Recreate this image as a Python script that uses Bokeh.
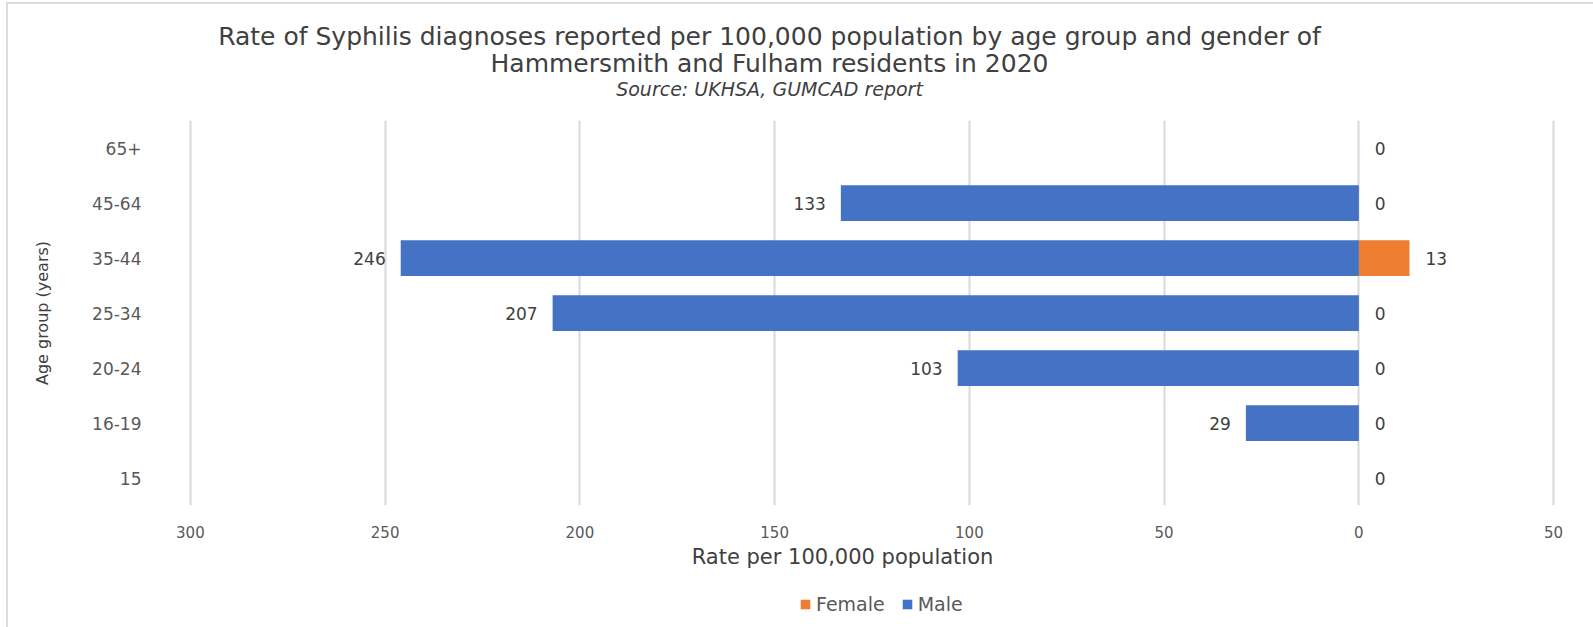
from bokeh.plotting import figure
from bokeh.layouts import column
from bokeh.models import ColumnDataSource, FixedTicker, Legend, LegendItem, Label
from bokeh.core.properties import value
from bokeh.embed import file_html
from bokeh.resources import INLINE

age_groups = ["15", "16-19", "20-24", "25-34", "35-44", "45-64", "65+"]
male = [0, 29, 103, 207, 246, 133, 0]
female = [0, 0, 0, 0, 13, 0, 0]
tick_values = [-300, -250, -200, -150, -100, -50, 0, 50]
tick_labels = ["300", "250", "200", "150", "100", "50", "0", "50"]

title_1 = "Rate of Syphilis diagnoses reported per 100,000 population by age group and gender of"
title_2 = "Hammersmith and Fulham residents in 2020"
subtitle = "Source: UKHSA, GUMCAD report"
x_title = "Rate per 100,000 population"
y_title = "Age group (years)"
series_names = ["Female", "Male"]

BLUE = "#4472C4"
ORANGE = "#ED7D31"
TXT = "#595959"
DARK = "#404040"
FONT = "DejaVu Sans"
W = 1585            # page width minus the thin chart-area border on the left
FRAME_LEFT = 178    # column aligns every frame to this left edge
FRAME_X_PAGE = 186  # frame left edge on the page


def bare(height):
    f = figure(width=W, height=height, x_range=(0, 1), y_range=(0, 1),
               x_axis_type=None, y_axis_type=None,
               output_backend="svg", toolbar_location=None,
               min_border=0, min_border_left=0, min_border_right=0,
               min_border_top=0, min_border_bottom=0)
    f.outline_line_color = None
    f.grid.grid_line_color = None
    f.background_fill_color = "white"
    f.border_fill_color = "white"
    return f


# ---------- title strip ----------
top = bare(116)
for txt, yy, size, style in [
    (title_1, 84, "25px", "normal"),
    (title_2, 57, "25px", "normal"),
    (subtitle, 32, "19px", "italic"),
]:
    top.add_layout(Label(x=769 - FRAME_X_PAGE, y=yy, x_units="screen", y_units="screen",
                         text=txt, text_align="center", text_baseline="middle",
                         text_font=FONT, text_font_size=size,
                         text_font_style=style, text_color=DARK))

# ---------- main chart ----------
src = ColumnDataSource(dict(
    age=age_groups,
    male_neg=[-m for m in male],
    female=female,
    female_lbl=[str(f) for f in female],
))
male_src = ColumnDataSource(dict(
    age=[a for a, m in zip(age_groups, male) if m > 0],
    x=[-m for m in male if m > 0],
    lbl=[str(m) for m in male if m > 0],
))

p = figure(width=W, height=420, y_range=age_groups, x_range=(-301, 51),
           output_backend="svg", toolbar_location=None,
           min_border_left=FRAME_LEFT, min_border_right=36,
           min_border_top=0, min_border_bottom=35)
p.outline_line_color = None
p.background_fill_color = "white"
p.border_fill_color = "white"

p.hbar(y="age", left=0, right="female", height=0.65, source=src,
       fill_color=ORANGE, line_color=None)
p.hbar(y="age", left="male_neg", right=0, height=0.65, source=src,
       fill_color=BLUE, line_color=None)

p.text(x="x", y="age", text="lbl", source=male_src, x_offset=-15,
       text_align="right", text_baseline="middle", text_color=DARK,
       text_font=value(FONT), text_font_size="17px")
p.text(x="female", y="age", text="female_lbl", source=src, x_offset=16,
       text_align="left", text_baseline="middle", text_color=DARK,
       text_font=value(FONT), text_font_size="17px")

p.xaxis.ticker = FixedTicker(ticks=tick_values)
p.xaxis.major_label_overrides = {t: l for t, l in zip(tick_values, tick_labels)}
p.xaxis.axis_line_color = None
p.xaxis.major_tick_line_color = None
p.xaxis.minor_tick_line_color = None
p.xaxis.major_label_standoff = 14
p.xaxis.major_label_text_font = FONT
p.xaxis.major_label_text_font_size = "15px"
p.xaxis.major_label_text_color = TXT

p.yaxis.axis_line_color = None
p.yaxis.major_tick_line_color = None
p.yaxis.minor_tick_line_color = None
p.yaxis.major_label_standoff = 39
p.yaxis.major_label_text_font = FONT
p.yaxis.major_label_text_font_size = "17px"
p.yaxis.major_label_text_color = TXT
p.yaxis.axis_label = y_title
p.yaxis.axis_label_standoff = 37
p.yaxis.axis_label_text_font = FONT
p.yaxis.axis_label_text_font_style = "normal"
p.yaxis.axis_label_text_font_size = "16px"
p.yaxis.axis_label_text_color = DARK

p.ygrid.grid_line_color = None
p.xgrid.grid_line_color = "#D9D9D9"
p.xgrid.grid_line_width = 2

# ---------- axis title + legend strip ----------
bot = bare(87)
bot.add_layout(Label(x=842 - FRAME_X_PAGE, y=71, x_units="screen", y_units="screen",
                     text=x_title, text_align="center", text_baseline="middle",
                     text_font=FONT, text_font_size="21px", text_color=DARK))
# legend-only renderers (hidden; they only supply the legend swatches)
leg_f = bot.hbar(y="female", left=0, right="female", height=0.5, source=src,
                 fill_color=ORANGE, line_color=None, visible=False)
leg_m = bot.hbar(y="female", left="male_neg", right=0, height=0.5, source=src,
                 fill_color=BLUE, line_color=None, visible=False)
legend = Legend(items=[LegendItem(label=series_names[0], renderers=[leg_f]),
                       LegendItem(label=series_names[1], renderers=[leg_m])],
                location=(613, 12), orientation="horizontal")
legend.background_fill_alpha = 0
legend.border_line_color = None
legend.label_text_font = FONT
legend.label_text_font_size = "19px"
legend.label_text_color = TXT
legend.glyph_width = 12
legend.glyph_height = 12
legend.label_standoff = 5
legend.spacing = 16
legend.padding = 4
legend.margin = 0
legend.click_policy = "none"
bot.add_layout(legend, "center")

layout = column(top, p, bot, spacing=0,
                styles={"margin-left": "6px", "margin-top": "2px",
                        "border-left": "2px solid #DCDCDC",
                        "border-top": "2px solid #DCDCDC"})
open("out.html", "w").write(file_html(layout, INLINE))
